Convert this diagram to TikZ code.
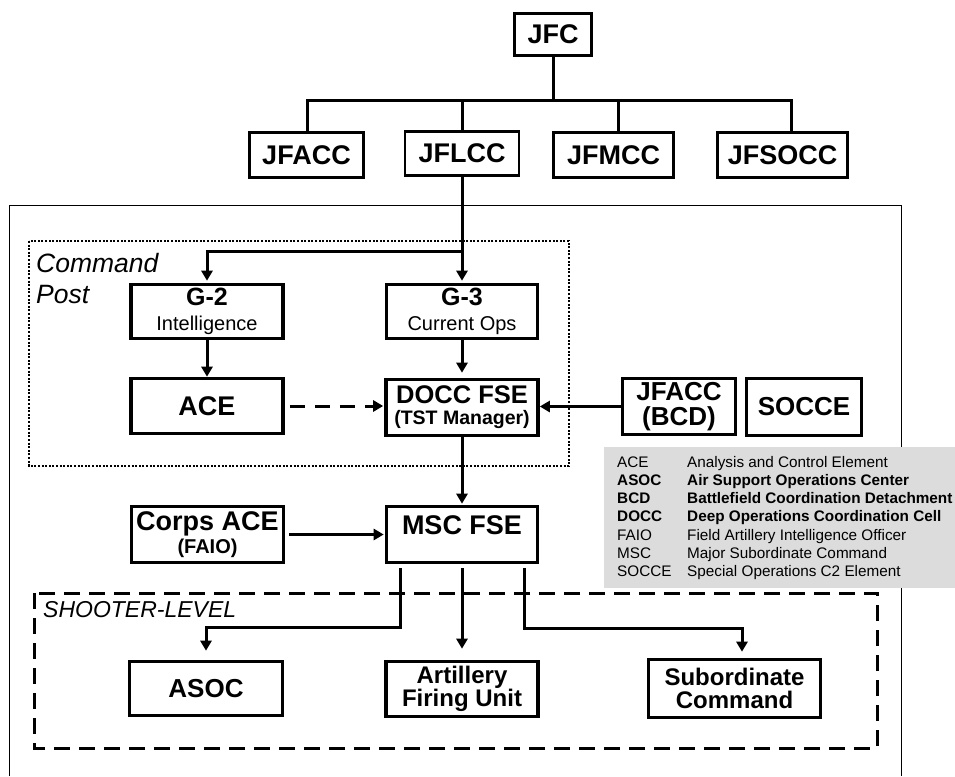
\documentclass[tikz,border=0pt]{standalone}
\usepackage{fontspec}
\setmainfont{Liberation Sans}
\usetikzlibrary{arrows.meta}
\definecolor{legendgray}{HTML}{DCDCDC}
\begin{document}
\begin{tikzpicture}[x=1pt,y=-1pt,
  box/.style={draw, line width=3.6pt, inner sep=0pt, align=center, fill=white},
  topbox/.style={draw, line width=2.6pt, inner sep=0pt, align=center,
    minimum height=45pt, font=\fontsize{27}{27}\selectfont\bfseries},
  link/.style={line width=3pt},
  arr/.style={line width=3pt, -{Triangle[width=11pt,length=10pt]}},
  legtxt/.style={anchor=base west, inner sep=0pt, font=\fontsize{15.3}{18}\selectfont},
  legbold/.style={legtxt, font=\fontsize{15.3}{18}\selectfont\bfseries},
]
\useasboundingbox (0,0) rectangle (955,776);

% outer frame of the land component and the legend panel
\draw[line width=1pt] (9,776) -- (9,205) -- (901,205) -- (901,776);
\fill[legendgray] (604,447) rectangle (955,588);

% command post and shooter-level groupings
\draw[line width=2pt, dash pattern=on 2pt off 1.6pt] (29,241) rectangle (569,466);
\node[anchor=base west, inner sep=0pt, font=\fontsize{26.5}{31}\selectfont\itshape] (cp1) at (36,272) {Command};
\node[anchor=base west, inner sep=0pt, font=\fontsize{26.5}{31}\selectfont\itshape] (cp2) at (36,303) {Post};
\draw[line width=3pt, dash pattern=on 16pt off 9pt] (34,593) rectangle (877,748);
\node[anchor=base west, inner sep=0pt, font=\fontsize{23}{23}\selectfont\itshape] (sl) at (43,617) {SHOOTER-LEVEL};

% joint force level
\node[topbox, minimum width=77pt, minimum height=42pt] (jfc) at (553,34.5) {JFC};
\node[topbox, minimum width=114pt] (jfacc) at (306.5,155) {JFACC};
\node[topbox, minimum width=114pt, minimum height=44pt] (jflcc) at (462,153.5) {JFLCC};
\node[topbox, minimum width=120pt] (jfmcc) at (613.5,155) {JFMCC};
\node[topbox, minimum width=130pt] (jfsocc) at (782.5,155) {JFSOCC};

\coordinate (busL) at (307,100);
\coordinate (busR) at (791,100);
\coordinate (dropM) at (618,100);
\draw[link] (jfc) -- (jfc |- busL);
\draw[link] (busL |- jfacc.north) -- (busL) -- (busR) -- (busR |- jfsocc.north);
\draw[link] (jflcc.north |- busL) -- (jflcc.north);
\draw[link] (dropM) -- (dropM |- jfmcc.north);

% command post cells
\node[box, minimum width=152pt, minimum height=54pt, font=\fontsize{20}{25}\selectfont] (g2) at (207,311.5)
  {{\fontsize{25}{25}\selectfont\bfseries G-2}\\Intelligence};
\node[box, minimum width=151pt, minimum height=54pt, font=\fontsize{20}{25}\selectfont] (g3) at (462,311.5)
  {{\fontsize{25}{25}\selectfont\bfseries G-3}\\Current Ops};
\node[box, minimum width=152pt, minimum height=55pt, font=\fontsize{27}{27}\selectfont\bfseries] (ace) at (207,406) {ACE};
\node[box, minimum width=152pt, minimum height=56pt, font=\fontsize{19.5}{21}\selectfont\bfseries] (docc) at (462,407.5)
  {{\fontsize{25.5}{21}\selectfont DOCC FSE}\\(TST Manager)};
\node[box, minimum width=113pt, minimum height=56pt, font=\fontsize{26}{25}\selectfont\bfseries] (bcd) at (679,406.5)
  {JFACC\\(BCD)};
\node[box, minimum width=115pt, minimum height=57pt, font=\fontsize{26}{26}\selectfont\bfseries] (socce) at (804,407) {SOCCE};

% fire support below the command post
\node[box, minimum width=152pt, minimum height=56pt, font=\fontsize{20}{23}\selectfont\bfseries] (corps) at (207.5,534.5)
  {{\fontsize{27}{23}\selectfont Corps ACE}\\(FAIO)};
\node[box, minimum width=151pt, minimum height=56pt, text height=10pt, text depth=10pt,
  font=\fontsize{27}{27}\selectfont\bfseries] (msc) at (462,534.5) {MSC FSE};

% shooters
\node[box, minimum width=153pt, minimum height=54pt, font=\fontsize{26}{26}\selectfont\bfseries] (asoc) at (206,688.5) {ASOC};
\node[box, minimum width=152pt, minimum height=55pt, font=\fontsize{24}{23}\selectfont\bfseries] (art) at (462,689)
  {Artillery\\Firing Unit};
\node[box, minimum width=172pt, minimum height=58pt, font=\fontsize{24}{23}\selectfont\bfseries] (sub) at (734.5,688.5)
  {Subordinate\\Command};

% connectors
\coordinate (branch) at (462,251);
\draw[arr, shorten >=2pt] (jflcc.south) -- (g3.north);
\draw[arr, shorten >=2pt] (branch) -- (branch -| g2.north) -- (g2.north);
\draw[arr] (g2) -- (ace);
\draw[arr, shorten >=5pt] (g3) -- (docc);
\draw[arr, dash pattern=on 15pt off 10pt, shorten <=5pt, shorten >=1pt] (ace.east) -- (ace.east -| docc.west);
\draw[arr] (bcd.west) -- (bcd.west -| docc.east);
\draw[arr, shorten >=1pt] (docc) -- (msc);
\draw[arr, shorten <=4pt, shorten >=1pt] (corps.east) -- (corps.east -| msc.west);

\coordinate (s1) at (400,627);
\coordinate (s3) at (524,628);
\coordinate (s3b) at (742,628);
\draw[arr, shorten <=4pt, shorten >=9pt] (msc.south -| s1) -- (s1) -- (s1 -| asoc.north) -- (asoc.north);
\draw[arr, shorten <=4pt, shorten >=11pt] (msc) -- (art);
\draw[arr, shorten <=4pt, shorten >=6pt] (msc.south -| s3) -- (s3) -- (s3b) -- (s3b |- sub.north);

% legend
\node[legtxt] (k1) at (617,467) {ACE};
\node[legtxt] (v1) at (687,467) {Analysis and Control Element};
\node[legbold] (k2) at (617,485.3) {ASOC};
\node[legbold] (v2) at (687,485.3) {Air Support Operations Center};
\node[legbold] (k3) at (617,503.6) {BCD};
\node[legbold] (v3) at (687,503.6) {Battlefield Coordination Detachment};
\node[legbold] (k4) at (617,521.9) {DOCC};
\node[legbold] (v4) at (687,521.9) {Deep Operations Coordination Cell};
\node[legtxt] (k5) at (617,540.2) {FAIO};
\node[legtxt] (v5) at (687,540.2) {Field Artillery Intelligence Officer};
\node[legtxt] (k6) at (617,558.5) {MSC};
\node[legtxt] (v6) at (687,558.5) {Major Subordinate Command};
\node[legtxt] (k7) at (617,576.8) {SOCCE};
\node[legtxt] (v7) at (687,576.8) {Special Operations C2 Element};
\end{tikzpicture}
\end{document}
